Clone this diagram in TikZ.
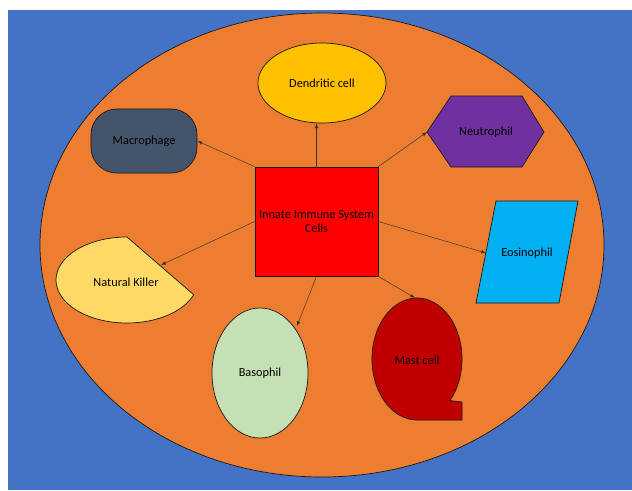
\documentclass[tikz,border=0pt]{standalone}
\usepackage{fontspec}
\setmainfont{Carlito}
\usepackage{tikz}
\usetikzlibrary{shapes.geometric}
\definecolor{bgblue}{HTML}{4472C4}
\definecolor{cellorange}{HTML}{ED7D31}
\definecolor{dendyellow}{HTML}{FFC000}
\definecolor{macroslate}{HTML}{44546A}
\definecolor{neupurple}{HTML}{7030A0}
\definecolor{eosblue}{HTML}{00B0F0}
\definecolor{nkyellow}{HTML}{FFD966}
\definecolor{mastred}{HTML}{C00000}
\definecolor{basogreen}{HTML}{C5E0B4}

\begin{document}
\begin{tikzpicture}[x=0.03cm, y=-0.03cm, font=\fontsize{10.5}{12.5}\selectfont,
    cell/.style={draw=black!90, line width=0.6pt},
    link/.style={-latex, thin, black!80}]
    \useasboundingbox (0,0) rectangle (632,490);
    % Draw the background and the big ellipse
    \fill[bgblue] (8,10) rectangle (632,490);
    \draw[cell, fill=cellorange] (322,245) ellipse [x radius=282, y radius=232];

    % Centre box
    \node[cell, fill=red, minimum width=3.69cm, minimum height=3.27cm, inner sep=0pt, align=center] (innate) at (316.5,221.5) {Innate Immune System\\Cells};

    % Cells with a node shape
    \node[cell, ellipse, fill=dendyellow, minimum width=3.84cm, minimum height=2.4cm, inner sep=0pt] (dend) at (322,83) {Dendritic cell};
    \node[cell, fill=macroslate, rounded corners=22pt, minimum width=3.18cm, minimum height=1.92cm, inner sep=0pt] (macro) at (144,141) {Macrophage};
    \node[cell, ellipse, fill=basogreen, minimum width=2.88cm, minimum height=3.9cm, inner sep=0pt] (baso) at (260,373) {Basophil};

    % Cells drawn as paths
    \draw[cell, fill=neupurple] (427,132) -- (451,96) -- (522,96) -- (544,132) -- (522,167) -- (451,167) -- cycle;
    \node (neu) at (486,132) {Neutrophil};
    \draw[cell, fill=eosblue] (496,201) -- (578,201) -- (559,303) -- (476,303) -- cycle;
    \node (eos) at (527,253) {Eosinophil};
    \draw[cell, fill=nkyellow] (127,237) arc[start angle=270, end angle=20, x radius=71, y radius=43] -- cycle;
    \node (nk) at (126,282) {Natural Killer};
    \draw[cell, fill=mastred] (417,420) arc[start angle=90, end angle=403, x radius=45, y radius=61] -- (462,402) -- (462,420) -- cycle;
    \node (mast) at (417,360) {Mast cell};

    % Arrow ends on the drawn shapes
    \coordinate (neu-tip) at (427,132);
    \coordinate (eos-edge) at (486,253);
    \coordinate (nk-edge) at (161,265);
    \coordinate (mast-top) at (415,298);
    \coordinate (baso-edge) at (297,326);

    % Connectors
    \draw[link] (innate.north) -- (innate.north |- dend.south);
    \draw[link] (innate.north west) -- (macro.east);
    \draw[link] (innate.north east) -- (neu-tip);
    \draw[link] (innate.west) -- (nk-edge);
    \draw[link] (innate.east) -- (eos-edge);
    \draw[link] (innate.south) -- (baso-edge);
    \draw[link] (innate.south east) -- (mast-top);
\end{tikzpicture}
\end{document}
